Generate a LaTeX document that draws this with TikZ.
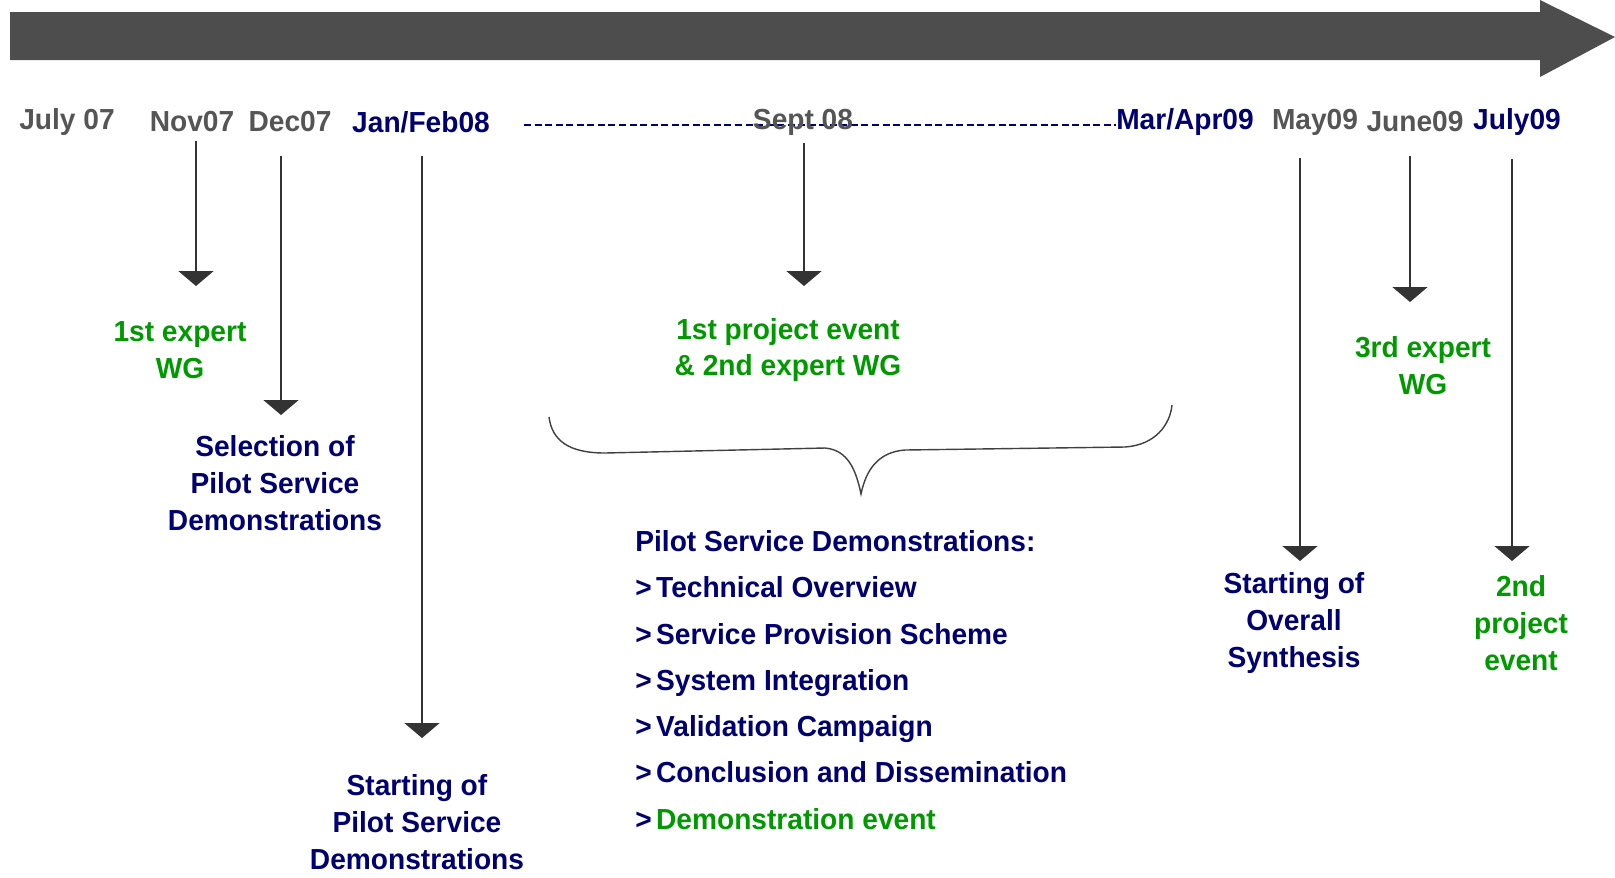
\documentclass[tikz,border=0pt]{standalone}
\usepackage{fontspec}
\setmainfont{Liberation Sans}[FakeStretch=0.97]
\usepackage{xcolor}
\usetikzlibrary{arrows.meta,positioning}
\definecolor{bargray}{HTML}{4D4D4D}
\definecolor{dategray}{HTML}{555555}
\definecolor{navy}{HTML}{000070}
\definecolor{wggreen}{HTML}{009A00}
\tikzstyle{evarrow} = [draw=black!80, line width=1.1pt, -{Triangle[width=0.7cm,length=0.3cm]}]
\tikzstyle{date} = [inner sep=0pt, font=\fontsize{16.5}{21}\selectfont\bfseries]
\tikzstyle{label} = [inner sep=0pt, align=center, font=\fontsize{16.5}{21}\selectfont\bfseries]
\newcommand{\taskmark}{>\kern2.5pt}

\begin{document}
\begin{tikzpicture}[
      x=0.02cm, y=-0.02cm
    ]
      \useasboundingbox (0,0) rectangle (1615,877);
      % time bar
      \fill[bargray] (10,12) -- (1540,12) -- (1540,0) -- (1615,37)
        -- (1540,77) -- (1540,60) -- (10,60) -- cycle;
      % dates
      \node[date, dategray] (jul07)  at (67,122)   {July 07};
      \node[date, dategray] (nov07)  at (192,122)  {Nov07};
      \node[date, dategray] (dec07)  at (290,122)  {Dec07};
      \node[date, navy]     (janfeb) at (421,122)  {Jan/Feb08};
      \node[date, navy]     (marapr) at (1185,122) {Mar/Apr09};
      \draw[navy, line width=1pt, dash pattern=on 4pt off 2pt]
        (janfeb.east) ++(34,3) -- (marapr.west |- 0,125);
      \node[date, dategray] (sep08)  at (803,122)  {Sept 08};
      \node[date, dategray] (may09)  at (1315,122) {May09};
      \node[date, dategray] (jun09)  at (1415,122) {June09};
      \node[date, navy]     (jul09)  at (1517,122) {July09};
      % events
      \node[label, wggreen] (wg1)     at (180,350)  {1st expert\\WG};
      \node[label, navy]    (select)  at (275,483)  {Selection of\\Pilot Service\\Demonstrations};
      \node[label, navy]    (startps) at (417,822)  {Starting of\\Pilot Service\\Demonstrations};
      \node[label, wggreen] (event1)  at (788,350)  {1st project event\\\& 2nd expert WG};
      \node[label, wggreen] (wg3)     at (1423,366) {3rd expert\\WG};
      \node[label, navy]    (synth)   at (1294,623) {Starting of\\Overall\\Synthesis};
      \node[label, wggreen] (event2)  at (1521,623) {2nd\\project\\event};
      \node[label, navy, align=left, anchor=west,
        font=\fontsize{16.5}{26.3}\selectfont\bfseries] (tasks) at (635,680)
        {Pilot Service Demonstrations:\\
         \taskmark Technical Overview\\
         \taskmark Service Provision Scheme\\
         \taskmark System Integration\\
         \taskmark Validation Campaign\\
         \taskmark Conclusion and Dissemination\\
         \taskmark\textcolor{wggreen}{Demonstration event}};
      % arrow tips
      \coordinate (tnov) at (196,286);
      \coordinate (tdec) at (281,415);
      \coordinate (tjan) at (422,738);
      \coordinate (tsep) at (804,286);
      \coordinate (tmay) at (1300,561);
      \coordinate (tjun) at (1410,302);
      \coordinate (tjul) at (1512,561);
      \draw[evarrow] (nov07.south -| tnov) ++(0,8) -- (tnov);
      \draw[evarrow] (dec07.south -| tdec) ++(0,23) -- (tdec);
      \draw[evarrow] (janfeb.south -| tjan) ++(0,23) -- (tjan);
      \draw[evarrow] (sep08.south -| tsep) ++(0,8) -- (tsep);
      \draw[evarrow] (may09.south -| tmay) ++(0,23) -- (tmay);
      \draw[evarrow] (jun09.south -| tjun) ++(0,23) -- (tjun);
      \draw[evarrow] (jul09.south -| tjul) ++(0,23) -- (tjul);
      % brace
      \draw[black!75, line width=0.8pt] (549,417) .. controls (552,440) and (568,453) .. (605,453)
        -- (825,448) .. controls (848,450) and (856,470) .. (861,494)
        .. controls (866,470) and (878,452) .. (905,450) -- (1125,447)
        .. controls (1155,445) and (1170,425) .. (1172,405);
    \end{tikzpicture}
\end{document}
